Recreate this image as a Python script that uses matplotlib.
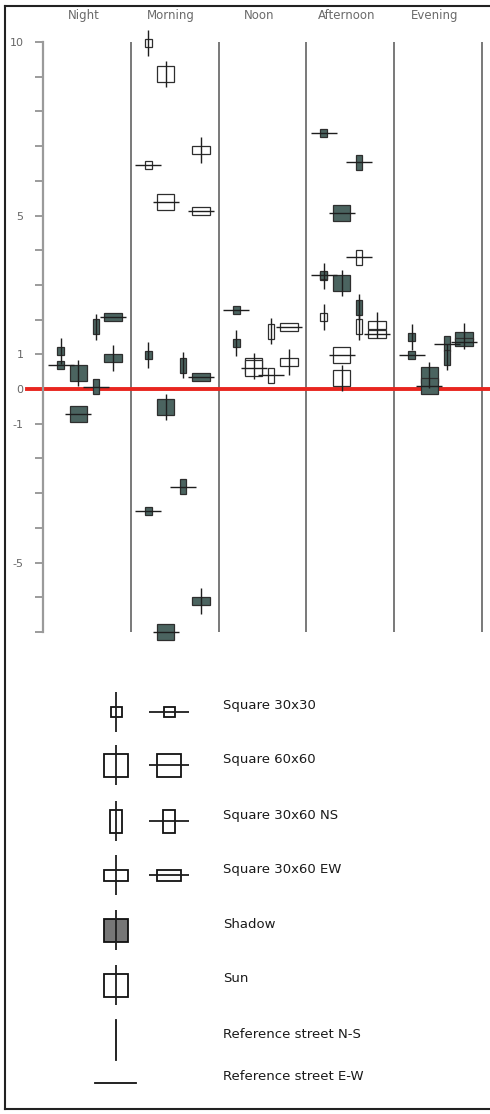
import matplotlib as mpl
mpl.use('Agg')
import matplotlib.pyplot as plt
from matplotlib.patches import Rectangle

# ---- data -------------------------------------------------------------
periods = ['Night', 'Morning', 'Noon', 'Afternoon', 'Evening']
square_types = ['30x30', '60x60', '30x60 NS', '30x60 EW']

y_ticks = list(range(-7, 11))
y_tick_labels = {10: '10', 5: '5', 1: '1', 0: '0', -1: '-1', -5: '-5'}

night_square = ['30x30', '30x30', '60x60', '60x60', '30x60 NS', '30x60 NS', '30x60 EW', '30x60 EW']
night_street = ['NS', 'EW', 'NS', 'EW', 'NS', 'EW', 'EW', 'NS']
night_light = ['shadow'] * 8
night_value = [1.10, 0.69, 0.46, -0.72, 1.79, 0.06, 2.08, 0.89]

morning_square = ['30x30', '60x60', '30x60 EW', '30x30', '60x60', '30x60 EW', '30x30',
                  '30x60 NS', '30x60 EW', '60x60', '30x60 NS', '30x30', '30x60 EW', '60x60']
morning_street = ['NS', 'NS', 'NS', 'EW', 'EW', 'EW', 'NS', 'NS', 'EW', 'NS', 'EW', 'EW', 'NS', 'EW']
morning_light = ['sun'] * 6 + ['shadow'] * 8
morning_value = [9.97, 9.08, 6.89, 6.46, 5.39, 5.13, 0.98, 0.69, 0.35, -0.53, -2.82, -3.52, -6.11, -7.0]

noon_square = ['30x30', '30x30', '60x60', '60x60', '30x60 NS', '30x60 NS', '30x60 EW', '30x60 EW']
noon_street = ['EW', 'NS', 'NS', 'EW', 'NS', 'EW', 'EW', 'NS']
noon_light = ['shadow', 'shadow', 'sun', 'sun', 'sun', 'sun', 'sun', 'sun']
noon_value = [2.28, 1.32, 0.66, 0.62, 1.67, 0.40, 1.79, 0.78]

afternoon_square = ['30x30', '30x60 NS', '60x60', '30x60 NS', '30x30', '30x30', '60x60',
                    '30x60 NS', '30x30', '30x60 NS', '30x60 EW', '30x60 EW', '60x60', '60x60']
afternoon_street = ['EW', 'EW', 'EW', 'EW', 'NS', 'EW', 'NS', 'NS', 'NS', 'NS', 'NS', 'EW', 'EW', 'NS']
afternoon_light = ['shadow', 'shadow', 'shadow', 'sun', 'shadow', 'shadow', 'shadow',
                   'shadow', 'sun', 'sun', 'sun', 'sun', 'sun', 'sun']
afternoon_value = [7.38, 6.54, 5.07, 3.80, 3.26, 3.30, 3.05, 2.36, 2.07, 1.79, 1.84, 1.58, 0.98, 0.32]

evening_square = ['30x30', '30x30', '60x60', '60x60', '30x60 NS', '30x60 NS', '30x60 EW', '30x60 EW']
evening_street = ['NS', 'EW', 'NS', 'EW', 'EW', 'NS', 'NS', 'EW']
evening_light = ['shadow'] * 8
evening_value = [1.50, 0.98, 0.40, 0.08, 1.30, 0.92, 1.53, 1.35]

legend_labels = ['Square 30x30', 'Square 60x60', 'Square 30x60 NS', 'Square 30x60 EW',
                 'Shadow', 'Sun', 'Reference street N-S', 'Reference street E-W']

# ---- styles -----------------------------------------------------------
W, H = 490, 1114
box_px = {'30x30': (7, 8), '60x60': (17, 16), '30x60 NS': (6, 15), '30x60 EW': (18, 8)}
legend_box_px = {'30x30': (11, 10), '60x60': (24, 23), '30x60 NS': (12, 23), '30x60 EW': (24, 11)}
slot = {s: 0.2 + 0.2 * i for i, s in enumerate(square_types)}
fills = {'shadow': '#4b6460', 'sun': 'white'}

fig = plt.figure(figsize=(W / 100, H / 100), dpi=100)
fig.patch.set_facecolor('white')

ax_left, ax_right, ax_top, ax_bottom = 43, 482, 42, 632
ax = fig.add_axes([ax_left / W, 1 - ax_bottom / H, (ax_right - ax_left) / W, (ax_bottom - ax_top) / H])
ax.set_xlim(0, 5)
ax.set_ylim(-7, 10)
ax.patch.set_alpha(0)
sx = (ax_right - ax_left) / 5.0
sy = (ax_bottom - ax_top) / 17.0

for s in ['top', 'right', 'bottom']:
    ax.spines[s].set_visible(False)
ax.spines['left'].set_color('#9a9a9a')
ax.spines['left'].set_linewidth(1.6)
ax.set_xticks([])
ax.set_yticks(y_ticks)
ax.set_yticklabels([y_tick_labels.get(t, '') for t in y_ticks])
ax.tick_params(axis='y', length=6, width=1.2, color='#8a8a8a', pad=8,
               labelsize=8, labelcolor='#666666')

ax.vlines(range(1, 6), -7, 10, color='#6e6e6e', lw=1.3, clip_on=False, zorder=1)
ax.axhline(0, xmin=-0.036, xmax=1.02, color='#e8261f', lw=2.8, clip_on=False, zorder=2)

for i, p in enumerate(periods):
    ax.text(i + 0.46, 10.75, p, ha='center', va='center', fontsize=8.5,
            color='#6a6a6a', clip_on=False)


def draw_mark(a, x, y, w, h, street, fill, line_len, px_x, px_y, lw_box, lw_line, edge):
    a.add_patch(Rectangle((x - w / 2 / px_x, y - h / 2 / px_y), w / px_x, h / px_y,
                          facecolor=fill, edgecolor=edge, lw=lw_box, zorder=4, clip_on=False))
    if street == 'NS':
        a.plot([x, x], [y - line_len / 2 / px_y, y + line_len / 2 / px_y],
               color='#1e1e1e', lw=lw_line, zorder=5, clip_on=False, solid_capstyle='butt')
    elif street == 'EW':
        a.plot([x - line_len / 2 / px_x, x + line_len / 2 / px_x], [y, y],
               color='#1e1e1e', lw=lw_line, zorder=5, clip_on=False, solid_capstyle='butt')


groups = [
    (night_square, night_street, night_light, night_value),
    (morning_square, morning_street, morning_light, morning_value),
    (noon_square, noon_street, noon_light, noon_value),
    (afternoon_square, afternoon_street, afternoon_light, afternoon_value),
    (evening_square, evening_street, evening_light, evening_value),
]
for i, (sq, st, li, va) in enumerate(groups):
    for s, r, l, v in zip(sq, st, li, va):
        w, h = box_px[s]
        draw_mark(ax, i + slot[s], v, w, h, r, fills[l], 26, sx, sy, 0.9, 1.0, '#2e2e2e')

# ---- legend and frame (pixel coordinates) -----------------------------
lg = fig.add_axes([0, 0, 1, 1])
lg.set_xlim(0, W)
lg.set_ylim(H, 0)
lg.axis('off')
lg.patch.set_alpha(0)

lg.plot([5, 5], [6, 1109], color='#222222', lw=1.5)
lg.plot([5, W], [6, 6], color='#222222', lw=1.5)
lg.plot([5, W], [1109, 1109], color='#222222', lw=1.5)

row_y = [712, 765, 821, 875, 930, 985, 1040, 1083]
col_ns, col_ew, text_x = 116, 169, 223

for k, s in enumerate(square_types):
    w, h = legend_box_px[s]
    draw_mark(lg, col_ns, row_y[k], w, h, 'NS', 'white', 40, 1, 1, 1.3, 1.3, '#111111')
    draw_mark(lg, col_ew, row_y[k], w, h, 'EW', 'white', 40, 1, 1, 1.3, 1.3, '#111111')

w, h = legend_box_px['60x60']
draw_mark(lg, col_ns, row_y[4], w, h, 'NS', '#767676', 40, 1, 1, 1.3, 1.3, '#111111')
draw_mark(lg, col_ns, row_y[5], w, h, 'NS', 'white', 40, 1, 1, 1.3, 1.3, '#111111')
lg.plot([col_ns, col_ns], [row_y[6] - 20, row_y[6] + 20], color='#111111', lw=1.3)
lg.plot([col_ns - 21, col_ns + 20], [row_y[7], row_y[7]], color='#111111', lw=1.3)

for k, lab in enumerate(legend_labels):
    lg.text(text_x, row_y[k] - 6, lab, ha='left', va='center', fontsize=9.5, color='#1a1a1a')

fig.savefig('out.png', dpi=100, facecolor='white')
